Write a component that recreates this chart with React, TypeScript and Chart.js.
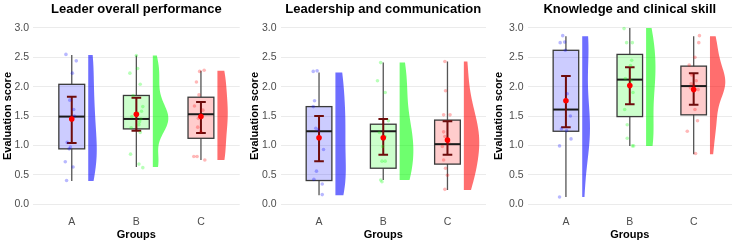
import React, { useEffect, useRef } from 'react';
import { Chart, registerables } from 'chart.js';

Chart.register(...registerables);

// ---- data ----------------------------------------------------------------
const groups = ['A', 'B', 'C'];
const panelTitles = [
  'Leader overall performance',
  'Leadership and communication',
  'Knowledge and clinical skill',
];
const yTicks = [0, 0.5, 1, 1.5, 2, 2.5, 3];

// individual scores per group (A, B, C)
const leaderScores = [
  [2.55, 2.44, 2.23, 1.77, 1.61, 1.5, 1.05, 0.97, 0.94, 0.72, 0.63, 0.4],
  [2.53, 2.31, 2.23, 2.04, 1.85, 1.66, 1.58, 1.55, 1.49, 1.45, 1.4, 1.35, 1.3, 1.22, 0.85, 0.68, 0.62],
  [2.28, 2.26, 2.08, 1.86, 1.67, 1.6, 1.46, 1.31, 1.23, 0.81, 0.81, 0.75],
];
// horizontal jitter of each point (category units)
const leaderJitter = [
  [-0.09, 0.07, 0.01, -0.03, 0.03, 0.04, -0.07, -0.02, -0.04, -0.1, 0.02, -0.08],
  [0.0, 0.02, -0.1, 0.06, -0.05, 0.1, 0.08, 0.02, -0.07, 0.07, 0.05, 0.04, -0.08, 0.06, -0.09, 0.04, 0.1],
  [0.05, -0.02, -0.07, -0.03, -0.1, 0.03, -0.04, -0.05, 0.0, -0.11, -0.06, 0.06],
];
// [lower whisker, Q1, median, Q3, upper whisker]
const leaderBox = [
  [0.39, 0.94, 1.49, 2.04, 2.54],
  [0.63, 1.28, 1.45, 1.85, 2.53],
  [0.75, 1.12, 1.53, 1.82, 2.27],
];
// [mean, lower error, upper error]
const leaderMean = [
  [1.45, 1.04, 1.83],
  [1.53, 1.25, 1.81],
  [1.49, 1.21, 1.74],
];

const commScores = [
  [2.27, 2.26, 1.76, 1.66, 1.29, 1.26, 0.93, 0.56, 0.42, 0.34, 0.16],
  [2.41, 2.1, 1.9, 1.42, 1.22, 1.15, 0.98, 0.73, 0.73, 0.41, 0.38],
  [2.43, 1.93, 1.52, 1.52, 1.23, 1.15, 1.05, 0.98, 0.75, 0.61, 0.49, 0.25],
];
const commJitter = [
  [-0.03, -0.09, -0.07, -0.09, -0.05, -0.01, 0.07, -0.04, -0.08, 0.05, 0.05],
  [-0.04, -0.09, 0.03, 0.08, -0.06, 0.03, -0.01, -0.02, 0.03, -0.04, -0.02],
  [-0.04, -0.03, -0.06, 0.04, -0.06, -0.04, 0.02, -0.08, -0.06, -0.03, 0.0, -0.04],
];
const commBox = [
  [0.15, 0.4, 1.24, 1.66, 2.24],
  [0.41, 0.61, 1.24, 1.36, 2.41],
  [0.24, 0.68, 1.02, 1.43, 2.43],
];
const commMean = [
  [1.13, 0.73, 1.5],
  [1.13, 0.84, 1.45],
  [1.09, 0.84, 1.41],
];

const skillScores = [
  [2.87, 2.76, 2.75, 2.62, 1.88, 1.5, 1.28, 1.25, 1.11, 0.99, 0.12],
  [2.99, 2.75, 2.75, 2.45, 2.36, 2.14, 2.1, 1.9, 1.61, 1.35, 1.12, 0.99, 0.99],
  [2.87, 2.75, 2.5, 2.37, 2.2, 2.1, 2.05, 2.02, 1.98, 1.95, 1.61, 1.42, 1.24, 0.86],
];
const skillJitter = [
  [-0.05, -0.02, -0.09, -0.01, 0.02, 0.07, -0.07, 0.01, 0.08, -0.1, -0.1],
  [-0.09, -0.05, 0.04, 0.03, 0.01, -0.07, 0.02, 0.05, -0.08, -0.04, -0.04, 0.04, 0.06],
  [0.09, 0.08, 0.02, -0.07, -0.03, 0.04, -0.04, 0.0, -0.05, 0.07, 0.02, 0.06, -0.1, 0.03],
];
const skillBox = [
  [0.12, 1.24, 1.61, 2.62, 2.86],
  [0.99, 1.49, 2.12, 2.55, 3.0],
  [0.85, 1.52, 2.01, 2.35, 2.86],
];
const skillMean = [
  [1.76, 1.31, 2.18],
  [2.02, 1.7, 2.33],
  [1.95, 1.69, 2.23],
];

// ---- styling ---------------------------------------------------------------
const FONT = "'Liberation Sans', Arial, Helvetica, sans-serif";
const groupRgb = ['0,0,255', '0,255,0', '255,0,0'];
const BOX_HALF = 0.2;
const CAP_HALF = 0.075;
const VIOLIN_NUDGE = 0.255;
const VIOLIN_MAX = 0.24;

// canvas placement for each panel
const panelLayout = [
  { left: 0, width: 245, axisWidth: 33, padRight: 5.3 },
  { left: 247, width: 243, axisWidth: 33.5, padRight: 3.3 },
  { left: 491, width: 245, axisWidth: 36.6, padRight: 2.3 },
];

type Panel = {
  title: string;
  scores: number[][];
  jitter: number[][];
  box: number[][];
  mean: number[][];
};

const panels: Panel[] = [
  { title: panelTitles[0], scores: leaderScores, jitter: leaderJitter, box: leaderBox, mean: leaderMean },
  { title: panelTitles[1], scores: commScores, jitter: commJitter, box: commBox, mean: commMean },
  { title: panelTitles[2], scores: skillScores, jitter: skillJitter, box: skillBox, mean: skillMean },
];

// Silverman's rule-of-thumb bandwidth (bw.nrd0)
function bandwidth(v: number[]): number {
  const n = v.length;
  const m = v.reduce((a, b) => a + b, 0) / n;
  const sd = Math.sqrt(v.reduce((a, b) => a + (b - m) * (b - m), 0) / (n - 1));
  const s = [...v].sort((a, b) => a - b);
  const q = (p: number) => {
    const h = (n - 1) * p;
    const lo = Math.floor(h);
    const hi = Math.min(lo + 1, n - 1);
    return s[lo] + (h - lo) * (s[hi] - s[lo]);
  };
  const iqr = q(0.75) - q(0.25);
  const spread = Math.min(sd, iqr / 1.34) || sd;
  return 0.9 * spread * Math.pow(n, -0.2);
}

function density(v: number[], bw: number, y: number): number {
  let sum = 0;
  for (const x of v) {
    const z = (y - x) / bw;
    sum += Math.exp(-0.5 * z * z);
  }
  return sum / (v.length * bw * Math.sqrt(2 * Math.PI));
}

// trimmed density outline of each group, scaled so the panel's widest
// violin reaches VIOLIN_MAX category units (equal-area scaling)
function violinProfiles(panel: Panel) {
  const steps = 80;
  const profiles = panel.scores.map((v, g) => {
    const bw = bandwidth(v);
    const lo = panel.box[g][0];
    const hi = panel.box[g][4];
    const pts: { y: number; d: number }[] = [];
    for (let i = 0; i <= steps; i++) {
      const y = lo + ((hi - lo) * i) / steps;
      pts.push({ y, d: density(v, bw, y) });
    }
    return pts;
  });
  const maxD = Math.max(...profiles.flat().map((p) => p.d));
  return profiles.map((pts) => pts.map((p) => ({ y: p.y, w: (p.d / maxD) * VIOLIN_MAX })));
}

function makeChart(canvas: HTMLCanvasElement, panel: Panel, layout: typeof panelLayout[0]) {
  const profiles = violinProfiles(panel);

  const rainPlugin = {
    id: 'rainCloud',
    beforeDatasetsDraw(chart: any) {
      const { ctx, scales } = chart;
      const xs = scales.x;
      const ys = scales.y;
      const px = (v: number) => xs.getPixelForValue(v);
      const py = (v: number) => ys.getPixelForValue(v);
      ctx.save();
      panel.box.forEach((b, g) => {
        const c = g + 1;
        const rgb = groupRgb[g];

        // half violin
        const base = c + VIOLIN_NUDGE;
        const prof = profiles[g];
        ctx.beginPath();
        ctx.moveTo(px(base), py(prof[0].y));
        prof.forEach((p) => ctx.lineTo(px(base + p.w), py(p.y)));
        ctx.lineTo(px(base), py(prof[prof.length - 1].y));
        ctx.closePath();
        ctx.fillStyle = `rgba(${rgb},0.57)`;
        ctx.fill();

        // whiskers
        ctx.strokeStyle = '#555555';
        ctx.lineWidth = 1.3;
        ctx.beginPath();
        ctx.moveTo(px(c), py(b[3]));
        ctx.lineTo(px(c), py(b[4]));
        ctx.moveTo(px(c), py(b[1]));
        ctx.lineTo(px(c), py(b[0]));
        ctx.stroke();

        // box
        const x0 = px(c - BOX_HALF);
        const x1 = px(c + BOX_HALF);
        const yTop = py(b[3]);
        const yBot = py(b[1]);
        ctx.fillStyle = `rgba(${rgb},0.2)`;
        ctx.fillRect(x0, yTop, x1 - x0, yBot - yTop);
        ctx.strokeStyle = '#3a3a3a';
        ctx.lineWidth = 1.3;
        ctx.strokeRect(x0, yTop, x1 - x0, yBot - yTop);

        // median
        ctx.strokeStyle = '#1a1a1a';
        ctx.lineWidth = 2;
        ctx.beginPath();
        ctx.moveTo(x0, py(b[2]));
        ctx.lineTo(x1, py(b[2]));
        ctx.stroke();
      });

      // mean ± error bars
      panel.mean.forEach((m, g) => {
        const c = g + 1;
        ctx.strokeStyle = '#6e0c0c';
        ctx.lineWidth = 2;
        ctx.beginPath();
        ctx.moveTo(px(c), py(m[1]));
        ctx.lineTo(px(c), py(m[2]));
        ctx.moveTo(px(c - CAP_HALF), py(m[1]));
        ctx.lineTo(px(c + CAP_HALF), py(m[1]));
        ctx.moveTo(px(c - CAP_HALF), py(m[2]));
        ctx.lineTo(px(c + CAP_HALF), py(m[2]));
        ctx.stroke();
      });
      ctx.restore();
    },
  };

  const pointSets = panel.scores.map((v, g) => ({
    type: 'scatter' as const,
    data: v.map((y, i) => ({ x: g + 1 + panel.jitter[g][i], y })),
    backgroundColor: `rgba(${groupRgb[g]},0.28)`,
    borderWidth: 0,
    pointRadius: 1.8,
    order: 2,
  }));
  const meanSet = {
    type: 'scatter' as const,
    data: panel.mean.map((m, g) => ({ x: g + 1, y: m[0] })),
    backgroundColor: '#ff0000',
    borderWidth: 0,
    pointRadius: 2.8,
    order: 0,
  };

  return new Chart(canvas, {
    type: 'scatter',
    data: { datasets: [meanSet, ...pointSets] },
    plugins: [rainPlugin],
    options: {
      animation: false,
      responsive: false,
      devicePixelRatio: 1,
      layout: { padding: { left: 0, right: layout.padRight, top: 0, bottom: 0 } },
      plugins: {
        legend: { display: false },
        tooltip: { enabled: false },
        title: {
          display: true,
          text: panel.title,
          fullSize: false,
          color: '#000000',
          font: { family: FONT, size: 13, weight: 'bold' },
          padding: { top: 1.8, bottom: 1.8 },
        },
      },
      scales: {
        x: {
          type: 'linear',
          min: 0.4,
          max: 3.6,
          afterBuildTicks: (s: any) => {
            s.ticks = groups.map((_, i) => ({ value: i + 1 }));
          },
          afterFit: (s: any) => {
            s.height = 30.2;
          },
          ticks: {
            color: '#4d4d4d',
            font: { family: FONT, size: 10.5 },
            padding: 3,
            callback: (v: any) => groups[Math.round(Number(v)) - 1] ?? '',
          },
          grid: { display: false, drawTicks: false },
          border: { display: false },
          title: {
            display: true,
            text: 'Groups',
            color: '#000000',
            font: { family: FONT, size: 11, weight: 'bold' },
            padding: { top: 0, bottom: 1.4 },
          },
        },
        y: {
          type: 'linear',
          min: -0.15,
          max: 3.15,
          afterBuildTicks: (s: any) => {
            s.ticks = yTicks.map((v) => ({ value: v }));
          },
          afterFit: (s: any) => {
            s.width = layout.axisWidth;
          },
          ticks: {
            color: '#4d4d4d',
            font: { family: FONT, size: 10.5 },
            padding: 4,
            callback: (v: any) => Number(v).toFixed(1),
          },
          grid: { color: '#ebebeb', lineWidth: 1, drawTicks: false },
          border: { display: false },
          title: {
            display: true,
            text: 'Evaluation score',
            color: '#000000',
            font: { family: FONT, size: 11, weight: 'bold' },
            padding: { top: 1.4, bottom: 0 },
          },
        },
      },
    },
  } as any);
}

export default function App() {
  const refs = [useRef<HTMLCanvasElement>(null), useRef<HTMLCanvasElement>(null), useRef<HTMLCanvasElement>(null)];

  useEffect(() => {
    const charts = panels.map((p, i) => makeChart(refs[i].current as HTMLCanvasElement, p, panelLayout[i]));
    return () => charts.forEach((c) => c.destroy());
  }, []);

  return (
    <div style={{ position: 'absolute', left: 0, top: 0, width: 736, height: 243, background: '#ffffff' }}>
      {panelLayout.map((l, i) => (
        <canvas
          key={i}
          ref={refs[i]}
          width={l.width}
          height={243}
          style={{ position: 'absolute', left: l.left, top: 0, width: l.width, height: 243 }}
        />
      ))}
    </div>
  );
}
